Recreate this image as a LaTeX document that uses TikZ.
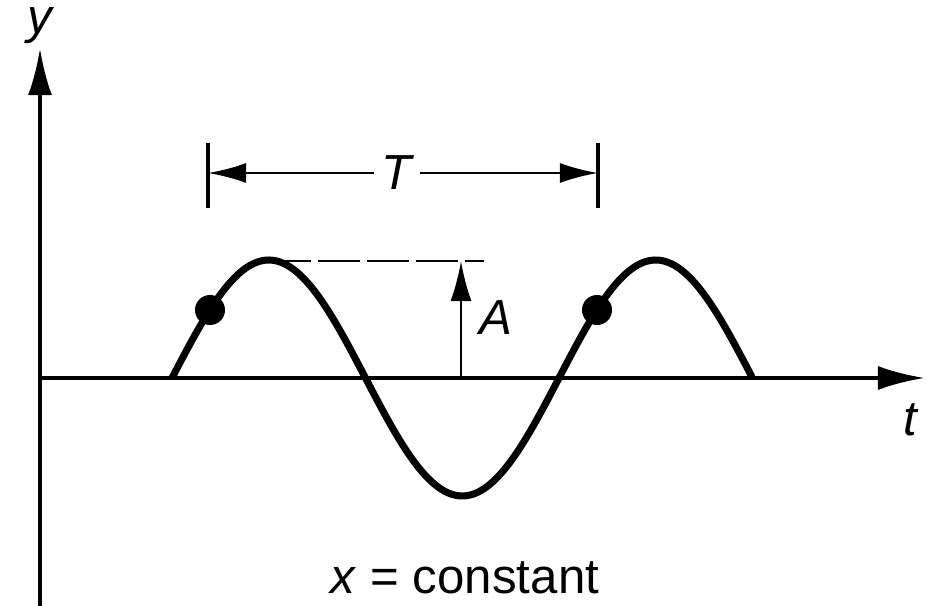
\documentclass[tikz,border=0pt]{standalone}
\usepackage{fontspec}
\setmainfont{Liberation Sans}
\usetikzlibrary{arrows.meta}

\begin{document}
\begin{tikzpicture}[
  x=0.01cm, y=0.01cm,
  axis/.style={-{Latex[length=4.7mm,width=2.4mm]}, line width=1.2pt},
  wave/.style={line width=2pt, line join=round},
  dim/.style={line width=0.7pt},
  tick/.style={line width=1pt},
  label/.style={font=\fontsize{14}{16}\selectfont\itshape},
  dot/.style={circle, fill, inner sep=0pt, minimum size=3mm}
]
\useasboundingbox (0,0) rectangle (933,606);

% axes
\coordinate (O) at (40,228);
\coordinate (ybot) at (40,0);
\coordinate (ytop) at (40,558);
\coordinate (tend) at (925,228);
\draw[axis] (ybot) -- (ytop);
\draw[axis] (O) -- (tend);
\node[label] (ylab) at (40,580) {y};
\node[label] (tlab) at (910,186) {t};

% wave
\draw[wave] plot[smooth, domain=172:752, samples=150]
  (\x,{228+118*sin((\x-172)/387*360)});
\node[dot] (p1) at (210,296) {};
\node[dot] (p2) at (597,296) {};

% amplitude
\coordinate (crest) at (269,345);
\coordinate (dashend) at (484,345);
\coordinate (abase) at (461,228);
\coordinate (atop) at (461,345);
\draw[dim, dash pattern=on 0.42cm off 0.07cm] (crest) -- (dashend);
\draw[dim, -{Latex[length=4mm,width=2.1mm]}] (abase) -- (atop);
\node[label] (alab) at (496,288) {A};

% period
\coordinate (tl1) at (208,463);
\coordinate (tl2) at (208,398);
\coordinate (tr1) at (598,463);
\coordinate (tr2) at (598,398);
\draw[tick] (tl1) -- (tl2);
\draw[tick] (tr1) -- (tr2);
\node[label, inner sep=2pt] (Tlab) at (397,433) {T};
\draw[dim, -{Latex[length=3.8mm,width=2mm]}] (Tlab.west) -- (tl1 |- Tlab.west);
\draw[dim, -{Latex[length=3.8mm,width=2mm]}] (Tlab.east) -- (tr1 |- Tlab.east);

\node[font=\fontsize{14}{16}\selectfont] (cap) at (465,28) {\textit{x} = constant};

\end{tikzpicture}
\end{document}
